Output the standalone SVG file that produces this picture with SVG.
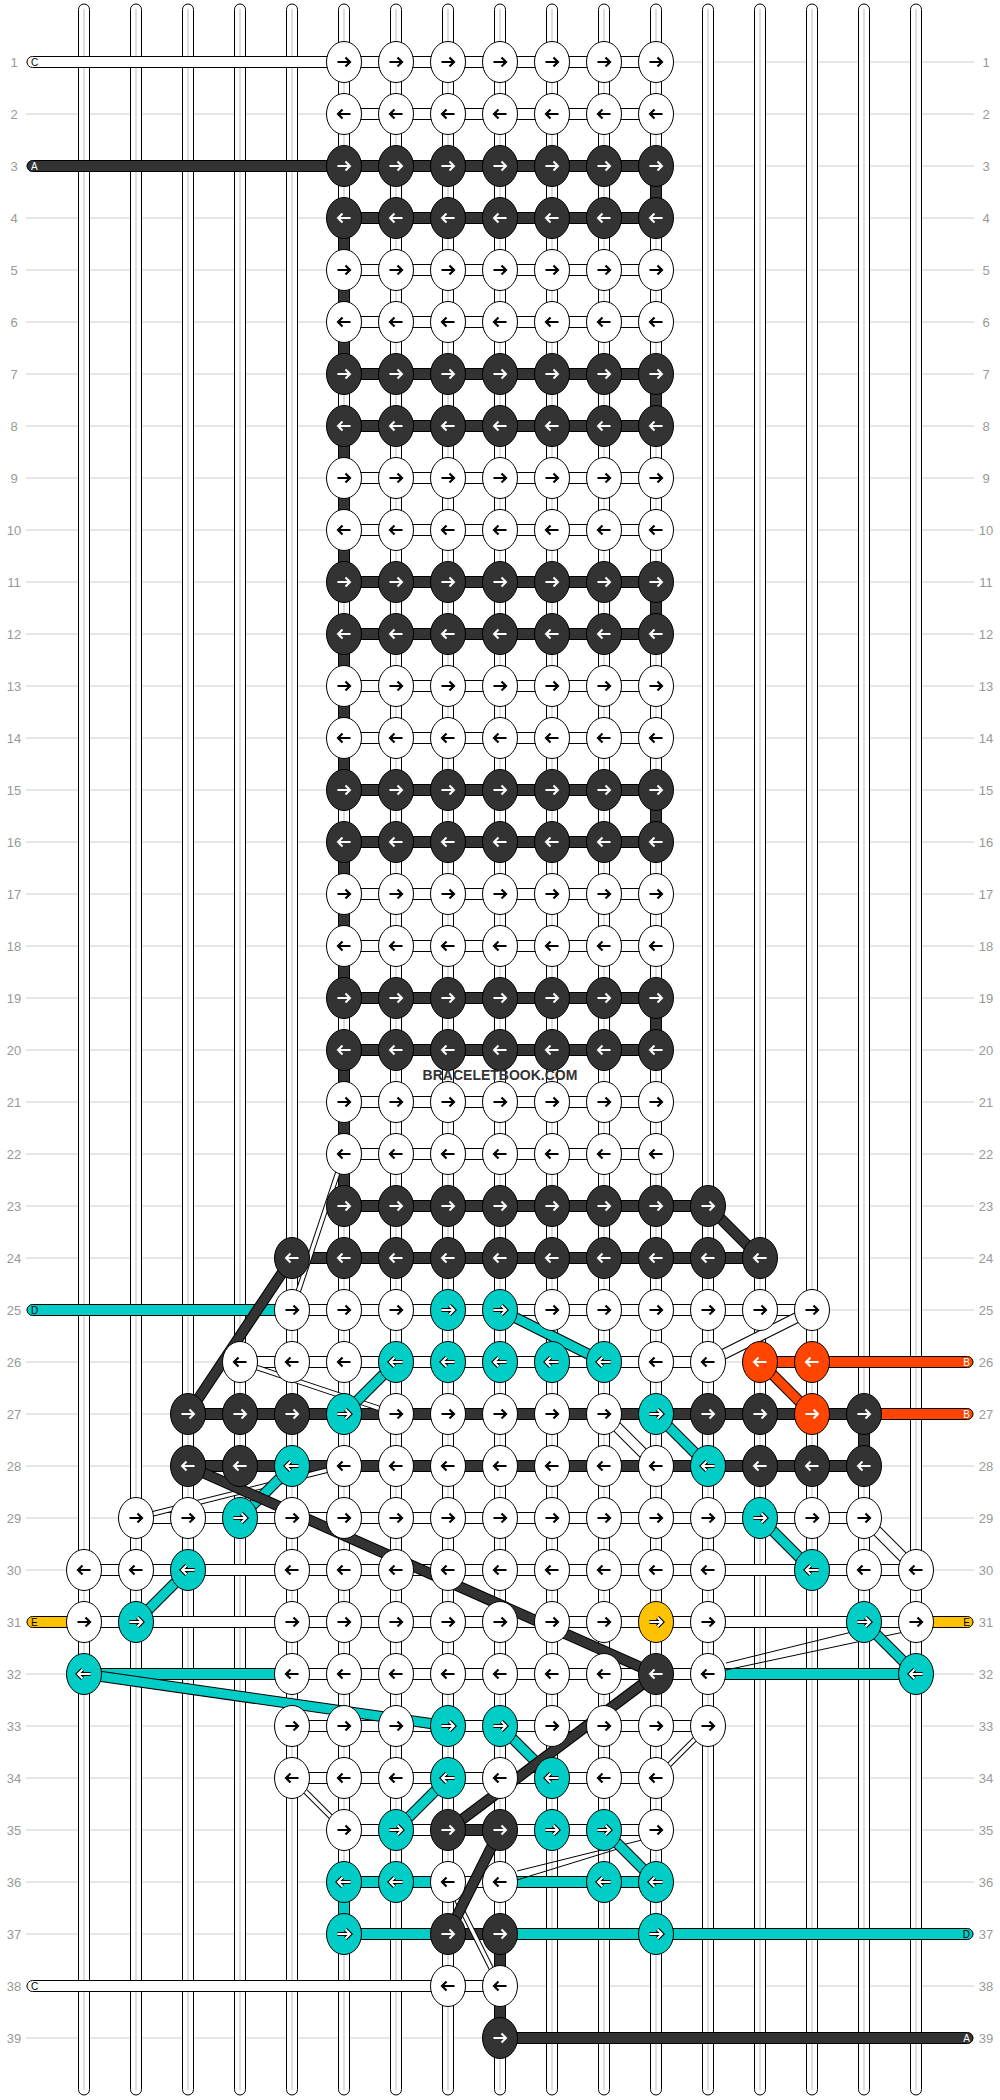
<svg xmlns="http://www.w3.org/2000/svg" xmlns:xlink="http://www.w3.org/1999/xlink" width="1000" height="2100" viewBox="0 0 1000 2100">
<style>
.rl{stroke:#ccc;stroke-width:1}
.num{font-family:"Liberation Sans",Arial,sans-serif;font-size:13px;fill:#999;text-anchor:middle}
.st{fill:#fff;stroke:#000;stroke-width:1}
.sc{stroke:#c8c8c8;stroke-width:1.2}
.bw{fill:#fff;stroke:#000;stroke-width:1}
.bd{fill:#333;stroke:#000;stroke-width:1}
.bc{fill:#00cdc5;stroke:#000;stroke-width:1}
.bo{fill:#ff4500;stroke:#000;stroke-width:1}
.by{fill:#ffc200;stroke:#000;stroke-width:1}
.lo{stroke:#000;stroke-width:11;fill:none}
.lo2{stroke:#000;stroke-width:5.5;fill:none}
.ld{stroke:#333;stroke-width:9}
.lc{stroke:#00cdc5;stroke-width:9}
.lw{stroke:#fff;stroke-width:9}
.lw2{stroke:#fff;stroke-width:3.5}
.lr{stroke:#ff4500;stroke-width:9}
.tl{stroke:#000;stroke-width:1}
.ab{fill:none;stroke:#000;stroke-width:2.2}
.ao{fill:none;stroke:#000;stroke-width:4.2}
.ai{fill:none;stroke:#fff;stroke-width:2}
.lab{font-family:"Liberation Sans",Arial,sans-serif;font-size:10px}
.wm{font-family:"Liberation Sans",Arial,sans-serif;font-size:14px;font-weight:bold;fill:#333;text-anchor:middle}
</style>
<defs>
<path id="aR" d="M-6.5,0H5M1.5,-4.5L6,0L1.5,4.5"/>
<path id="aL" d="M6.5,0H-5M-1.5,-4.5L-6,0L-1.5,4.5"/>
<g id="WR"><ellipse rx="17.5" ry="20.5" class="bw"/><use href="#aR" class="ab"/></g>
<g id="WL"><ellipse rx="17.5" ry="20.5" class="bw"/><use href="#aL" class="ab"/></g>
<g id="DR"><ellipse rx="17.5" ry="20.5" class="bd"/><use href="#aR" class="ai"/></g>
<g id="DL"><ellipse rx="17.5" ry="20.5" class="bd"/><use href="#aL" class="ai"/></g>
<g id="CR"><ellipse rx="17.5" ry="20.5" class="bc"/><use href="#aR" class="ao"/><use href="#aR" class="ai"/></g>
<g id="CL"><ellipse rx="17.5" ry="20.5" class="bc"/><use href="#aL" class="ao"/><use href="#aL" class="ai"/></g>
<g id="OR"><ellipse rx="17.5" ry="20.5" class="bo"/><use href="#aR" class="ai"/></g>
<g id="OL"><ellipse rx="17.5" ry="20.5" class="bo"/><use href="#aL" class="ai"/></g>
<g id="YR"><ellipse rx="17.5" ry="20.5" class="by"/><use href="#aR" class="ao"/><use href="#aR" class="ai"/></g>
<g id="str"><rect x="-5.5" y="4" width="11" height="2091" rx="5.5" class="st"/><line x1="0" y1="9" x2="0" y2="2090" class="sc"/></g>
</defs>
<rect width="1000" height="2100" fill="#fff"/>
<g id="rowlines" class="rl">
<line x1="26" x2="974" y1="62" y2="62"/><line x1="26" x2="974" y1="114" y2="114"/><line x1="26" x2="974" y1="166" y2="166"/><line x1="26" x2="974" y1="218" y2="218"/><line x1="26" x2="974" y1="270" y2="270"/><line x1="26" x2="974" y1="322" y2="322"/><line x1="26" x2="974" y1="374" y2="374"/><line x1="26" x2="974" y1="426" y2="426"/><line x1="26" x2="974" y1="478" y2="478"/><line x1="26" x2="974" y1="530" y2="530"/><line x1="26" x2="974" y1="582" y2="582"/><line x1="26" x2="974" y1="634" y2="634"/><line x1="26" x2="974" y1="686" y2="686"/><line x1="26" x2="974" y1="738" y2="738"/><line x1="26" x2="974" y1="790" y2="790"/><line x1="26" x2="974" y1="842" y2="842"/><line x1="26" x2="974" y1="894" y2="894"/><line x1="26" x2="974" y1="946" y2="946"/><line x1="26" x2="974" y1="998" y2="998"/><line x1="26" x2="974" y1="1050" y2="1050"/><line x1="26" x2="974" y1="1102" y2="1102"/><line x1="26" x2="974" y1="1154" y2="1154"/><line x1="26" x2="974" y1="1206" y2="1206"/><line x1="26" x2="974" y1="1258" y2="1258"/><line x1="26" x2="974" y1="1310" y2="1310"/><line x1="26" x2="974" y1="1362" y2="1362"/><line x1="26" x2="974" y1="1414" y2="1414"/><line x1="26" x2="974" y1="1466" y2="1466"/><line x1="26" x2="974" y1="1518" y2="1518"/><line x1="26" x2="974" y1="1570" y2="1570"/><line x1="26" x2="974" y1="1622" y2="1622"/><line x1="26" x2="974" y1="1674" y2="1674"/><line x1="26" x2="974" y1="1726" y2="1726"/><line x1="26" x2="974" y1="1778" y2="1778"/><line x1="26" x2="974" y1="1830" y2="1830"/><line x1="26" x2="974" y1="1882" y2="1882"/><line x1="26" x2="974" y1="1934" y2="1934"/><line x1="26" x2="974" y1="1986" y2="1986"/><line x1="26" x2="974" y1="2038" y2="2038"/>
</g>
<g id="rownumbers" class="num">
<text x="14" y="66.5">1</text><text x="986" y="66.5">1</text>
<text x="14" y="118.5">2</text><text x="986" y="118.5">2</text>
<text x="14" y="170.5">3</text><text x="986" y="170.5">3</text>
<text x="14" y="222.5">4</text><text x="986" y="222.5">4</text>
<text x="14" y="274.5">5</text><text x="986" y="274.5">5</text>
<text x="14" y="326.5">6</text><text x="986" y="326.5">6</text>
<text x="14" y="378.5">7</text><text x="986" y="378.5">7</text>
<text x="14" y="430.5">8</text><text x="986" y="430.5">8</text>
<text x="14" y="482.5">9</text><text x="986" y="482.5">9</text>
<text x="14" y="534.5">10</text><text x="986" y="534.5">10</text>
<text x="14" y="586.5">11</text><text x="986" y="586.5">11</text>
<text x="14" y="638.5">12</text><text x="986" y="638.5">12</text>
<text x="14" y="690.5">13</text><text x="986" y="690.5">13</text>
<text x="14" y="742.5">14</text><text x="986" y="742.5">14</text>
<text x="14" y="794.5">15</text><text x="986" y="794.5">15</text>
<text x="14" y="846.5">16</text><text x="986" y="846.5">16</text>
<text x="14" y="898.5">17</text><text x="986" y="898.5">17</text>
<text x="14" y="950.5">18</text><text x="986" y="950.5">18</text>
<text x="14" y="1002.5">19</text><text x="986" y="1002.5">19</text>
<text x="14" y="1054.5">20</text><text x="986" y="1054.5">20</text>
<text x="14" y="1106.5">21</text><text x="986" y="1106.5">21</text>
<text x="14" y="1158.5">22</text><text x="986" y="1158.5">22</text>
<text x="14" y="1210.5">23</text><text x="986" y="1210.5">23</text>
<text x="14" y="1262.5">24</text><text x="986" y="1262.5">24</text>
<text x="14" y="1314.5">25</text><text x="986" y="1314.5">25</text>
<text x="14" y="1366.5">26</text><text x="986" y="1366.5">26</text>
<text x="14" y="1418.5">27</text><text x="986" y="1418.5">27</text>
<text x="14" y="1470.5">28</text><text x="986" y="1470.5">28</text>
<text x="14" y="1522.5">29</text><text x="986" y="1522.5">29</text>
<text x="14" y="1574.5">30</text><text x="986" y="1574.5">30</text>
<text x="14" y="1626.5">31</text><text x="986" y="1626.5">31</text>
<text x="14" y="1678.5">32</text><text x="986" y="1678.5">32</text>
<text x="14" y="1730.5">33</text><text x="986" y="1730.5">33</text>
<text x="14" y="1782.5">34</text><text x="986" y="1782.5">34</text>
<text x="14" y="1834.5">35</text><text x="986" y="1834.5">35</text>
<text x="14" y="1886.5">36</text><text x="986" y="1886.5">36</text>
<text x="14" y="1938.5">37</text><text x="986" y="1938.5">37</text>
<text x="14" y="1990.5">38</text><text x="986" y="1990.5">38</text>
<text x="14" y="2042.5">39</text><text x="986" y="2042.5">39</text>
</g>
<g id="strings">
<use href="#str" x="84"/><use href="#str" x="136"/><use href="#str" x="188"/><use href="#str" x="240"/><use href="#str" x="292"/><use href="#str" x="344"/><use href="#str" x="396"/><use href="#str" x="448"/><use href="#str" x="500"/><use href="#str" x="552"/><use href="#str" x="604"/><use href="#str" x="656"/><use href="#str" x="708"/><use href="#str" x="760"/><use href="#str" x="812"/><use href="#str" x="864"/><use href="#str" x="916"/>
</g>
<g id="connectors">
<g id="bands">
<rect x="27" y="56.5" width="629" height="11" rx="5.5" class="bw"/>
<rect x="344" y="108.5" width="312" height="11" class="bw"/>
<rect x="27" y="160.5" width="629" height="11" rx="5.5" class="bd"/>
<rect x="344" y="212.5" width="312" height="11" class="bd"/>
<rect x="344" y="264.5" width="312" height="11" class="bw"/>
<rect x="344" y="316.5" width="312" height="11" class="bw"/>
<rect x="344" y="368.5" width="312" height="11" class="bd"/>
<rect x="344" y="420.5" width="312" height="11" class="bd"/>
<rect x="344" y="472.5" width="312" height="11" class="bw"/>
<rect x="344" y="524.5" width="312" height="11" class="bw"/>
<rect x="344" y="576.5" width="312" height="11" class="bd"/>
<rect x="344" y="628.5" width="312" height="11" class="bd"/>
<rect x="344" y="680.5" width="312" height="11" class="bw"/>
<rect x="344" y="732.5" width="312" height="11" class="bw"/>
<rect x="344" y="784.5" width="312" height="11" class="bd"/>
<rect x="344" y="836.5" width="312" height="11" class="bd"/>
<rect x="344" y="888.5" width="312" height="11" class="bw"/>
<rect x="344" y="940.5" width="312" height="11" class="bw"/>
<rect x="344" y="992.5" width="312" height="11" class="bd"/>
<rect x="344" y="1044.5" width="312" height="11" class="bd"/>
<rect x="344" y="1096.5" width="312" height="11" class="bw"/>
<rect x="344" y="1148.5" width="312" height="11" class="bw"/>
<rect x="344" y="1200.5" width="364" height="11" class="bd"/>
<rect x="292" y="1252.5" width="468" height="11" class="bd"/>
<rect x="27" y="1304.5" width="265" height="11" rx="5.5" class="bc"/>
<rect x="292" y="1304.5" width="520" height="11" class="bw"/>
<rect x="240" y="1356.5" width="468" height="11" class="bw"/>
<rect x="760" y="1356.5" width="213" height="11" rx="5.5" class="bo"/>
<rect x="188" y="1408.5" width="676" height="11" class="bd"/>
<rect x="864" y="1408.5" width="109" height="11" rx="5.5" class="bo"/>
<rect x="188" y="1460.5" width="676" height="11" class="bd"/>
<rect x="136" y="1512.5" width="728" height="11" class="bw"/>
<rect x="84" y="1564.5" width="832" height="11" class="bw"/>
<rect x="27" y="1616.5" width="57" height="11" rx="5.5" class="by"/>
<rect x="84" y="1616.5" width="832" height="11" class="bw"/>
<rect x="916" y="1616.5" width="57" height="11" rx="5.5" class="by"/>
<rect x="84" y="1668.5" width="208" height="11" class="bc"/>
<rect x="292" y="1668.5" width="416" height="11" class="bw"/>
<rect x="708" y="1668.5" width="208" height="11" class="bc"/>
<rect x="292" y="1720.5" width="416" height="11" class="bw"/>
<rect x="292" y="1772.5" width="364" height="11" class="bw"/>
<rect x="344" y="1824.5" width="104" height="11" class="bw"/>
<rect x="448" y="1824.5" width="52" height="11" class="bd"/>
<rect x="500" y="1824.5" width="156" height="11" class="bw"/>
<rect x="344" y="1876.5" width="104" height="11" class="bc"/>
<rect x="448" y="1876.5" width="52" height="11" class="bw"/>
<rect x="500" y="1876.5" width="156" height="11" class="bc"/>
<rect x="344" y="1928.5" width="104" height="11" class="bc"/>
<rect x="448" y="1928.5" width="52" height="11" class="bd"/>
<rect x="500" y="1928.5" width="473" height="11" rx="5.5" class="bc"/>
<rect x="27" y="1980.5" width="473" height="11" rx="5.5" class="bw"/>
<rect x="500" y="2032.5" width="473" height="11" rx="5.5" class="bd"/>
</g>
<g id="verticals">
<rect x="338.5" y="218" width="11" height="156" class="bd"/>
<rect x="338.5" y="426" width="11" height="156" class="bd"/>
<rect x="338.5" y="634" width="11" height="156" class="bd"/>
<rect x="338.5" y="842" width="11" height="156" class="bd"/>
<rect x="338.5" y="1050" width="11" height="156" class="bd"/>
<rect x="650.5" y="166" width="11" height="52" class="bd"/>
<rect x="650.5" y="374" width="11" height="52" class="bd"/>
<rect x="650.5" y="582" width="11" height="52" class="bd"/>
<rect x="650.5" y="790" width="11" height="52" class="bd"/>
<rect x="650.5" y="998" width="11" height="52" class="bd"/>
<rect x="858.5" y="1414" width="11" height="52" class="bd"/>
<rect x="494.5" y="1934" width="11" height="104" class="bd"/>
<rect x="338.5" y="1882" width="11" height="52" class="bc"/>
</g>
<g id="diagonals">
<line x1="344" y1="1154" x2="292" y2="1310" class="lo2"/><line x1="344" y1="1154" x2="292" y2="1310" class="lw2"/>
<line x1="812" y1="1310" x2="708" y2="1362" class="lo"/><line x1="812" y1="1310" x2="708" y2="1362" class="lw"/>
<line x1="240" y1="1362" x2="396" y2="1414" class="lo2"/><line x1="240" y1="1362" x2="396" y2="1414" class="lw2"/>
<line x1="344" y1="1466" x2="136" y2="1518" class="lo2"/><line x1="344" y1="1466" x2="136" y2="1518" class="lw2"/>
<line x1="604" y1="1414" x2="656" y2="1466" class="lo"/><line x1="604" y1="1414" x2="656" y2="1466" class="lw"/>
<line x1="864" y1="1518" x2="916" y2="1570" class="lo"/><line x1="864" y1="1518" x2="916" y2="1570" class="lw"/>
<line x1="708" y1="1726" x2="656" y2="1778" class="lo2"/><line x1="708" y1="1726" x2="656" y2="1778" class="lw2"/>
<line x1="292" y1="1778" x2="344" y2="1830" class="lo2"/><line x1="292" y1="1778" x2="344" y2="1830" class="lw2"/>
<line x1="448" y1="1882" x2="500" y2="1986" class="lo2"/><line x1="448" y1="1882" x2="500" y2="1986" class="lw2"/>
<line x1="726" y1="1663" x2="856" y2="1631" class="tl"/><line x1="726" y1="1670" x2="904" y2="1632" class="tl"/>
<line x1="517" y1="1871" x2="642" y2="1840" class="tl"/><line x1="517" y1="1880" x2="624" y2="1847" class="tl"/>
<line x1="500" y1="1310" x2="604" y2="1362" class="lo"/><line x1="500" y1="1310" x2="604" y2="1362" class="lc"/>
<line x1="396" y1="1362" x2="344" y2="1414" class="lo"/><line x1="396" y1="1362" x2="344" y2="1414" class="lc"/>
<line x1="656" y1="1414" x2="708" y2="1466" class="lo"/><line x1="656" y1="1414" x2="708" y2="1466" class="lc"/>
<line x1="292" y1="1466" x2="240" y2="1518" class="lo"/><line x1="292" y1="1466" x2="240" y2="1518" class="lc"/>
<line x1="760" y1="1518" x2="812" y2="1570" class="lo"/><line x1="760" y1="1518" x2="812" y2="1570" class="lc"/>
<line x1="188" y1="1570" x2="136" y2="1622" class="lo"/><line x1="188" y1="1570" x2="136" y2="1622" class="lc"/>
<line x1="864" y1="1622" x2="916" y2="1674" class="lo"/><line x1="864" y1="1622" x2="916" y2="1674" class="lc"/>
<line x1="84" y1="1674" x2="448" y2="1726" class="lo"/><line x1="84" y1="1674" x2="448" y2="1726" class="lc"/>
<line x1="500" y1="1726" x2="552" y2="1778" class="lo"/><line x1="500" y1="1726" x2="552" y2="1778" class="lc"/>
<line x1="448" y1="1778" x2="396" y2="1830" class="lo"/><line x1="448" y1="1778" x2="396" y2="1830" class="lc"/>
<line x1="604" y1="1830" x2="656" y2="1882" class="lo"/><line x1="604" y1="1830" x2="656" y2="1882" class="lc"/>
<line x1="760" y1="1362" x2="812" y2="1414" class="lo"/><line x1="760" y1="1362" x2="812" y2="1414" class="lr"/>
<line x1="708" y1="1206" x2="760" y2="1258" class="lo"/><line x1="708" y1="1206" x2="760" y2="1258" class="ld"/>
<line x1="292" y1="1258" x2="188" y2="1414" class="lo"/><line x1="292" y1="1258" x2="188" y2="1414" class="ld"/>
<line x1="188" y1="1466" x2="656" y2="1674" class="lo"/><line x1="188" y1="1466" x2="656" y2="1674" class="ld"/>
<line x1="656" y1="1674" x2="448" y2="1830" class="lo"/><line x1="656" y1="1674" x2="448" y2="1830" class="ld"/>
<line x1="500" y1="1830" x2="448" y2="1934" class="lo"/><line x1="500" y1="1830" x2="448" y2="1934" class="ld"/>
</g>
</g>
<g id="knots">
<g id="n1-5"><use href="#WR" x="344" y="62"/></g><g id="n1-6"><use href="#WR" x="396" y="62"/></g><g id="n1-7"><use href="#WR" x="448" y="62"/></g><g id="n1-8"><use href="#WR" x="500" y="62"/></g><g id="n1-9"><use href="#WR" x="552" y="62"/></g><g id="n1-10"><use href="#WR" x="604" y="62"/></g><g id="n1-11"><use href="#WR" x="656" y="62"/></g>
<g id="n2-5"><use href="#WL" x="344" y="114"/></g><g id="n2-6"><use href="#WL" x="396" y="114"/></g><g id="n2-7"><use href="#WL" x="448" y="114"/></g><g id="n2-8"><use href="#WL" x="500" y="114"/></g><g id="n2-9"><use href="#WL" x="552" y="114"/></g><g id="n2-10"><use href="#WL" x="604" y="114"/></g><g id="n2-11"><use href="#WL" x="656" y="114"/></g>
<g id="n3-5"><use href="#DR" x="344" y="166"/></g><g id="n3-6"><use href="#DR" x="396" y="166"/></g><g id="n3-7"><use href="#DR" x="448" y="166"/></g><g id="n3-8"><use href="#DR" x="500" y="166"/></g><g id="n3-9"><use href="#DR" x="552" y="166"/></g><g id="n3-10"><use href="#DR" x="604" y="166"/></g><g id="n3-11"><use href="#DR" x="656" y="166"/></g>
<g id="n4-5"><use href="#DL" x="344" y="218"/></g><g id="n4-6"><use href="#DL" x="396" y="218"/></g><g id="n4-7"><use href="#DL" x="448" y="218"/></g><g id="n4-8"><use href="#DL" x="500" y="218"/></g><g id="n4-9"><use href="#DL" x="552" y="218"/></g><g id="n4-10"><use href="#DL" x="604" y="218"/></g><g id="n4-11"><use href="#DL" x="656" y="218"/></g>
<g id="n5-5"><use href="#WR" x="344" y="270"/></g><g id="n5-6"><use href="#WR" x="396" y="270"/></g><g id="n5-7"><use href="#WR" x="448" y="270"/></g><g id="n5-8"><use href="#WR" x="500" y="270"/></g><g id="n5-9"><use href="#WR" x="552" y="270"/></g><g id="n5-10"><use href="#WR" x="604" y="270"/></g><g id="n5-11"><use href="#WR" x="656" y="270"/></g>
<g id="n6-5"><use href="#WL" x="344" y="322"/></g><g id="n6-6"><use href="#WL" x="396" y="322"/></g><g id="n6-7"><use href="#WL" x="448" y="322"/></g><g id="n6-8"><use href="#WL" x="500" y="322"/></g><g id="n6-9"><use href="#WL" x="552" y="322"/></g><g id="n6-10"><use href="#WL" x="604" y="322"/></g><g id="n6-11"><use href="#WL" x="656" y="322"/></g>
<g id="n7-5"><use href="#DR" x="344" y="374"/></g><g id="n7-6"><use href="#DR" x="396" y="374"/></g><g id="n7-7"><use href="#DR" x="448" y="374"/></g><g id="n7-8"><use href="#DR" x="500" y="374"/></g><g id="n7-9"><use href="#DR" x="552" y="374"/></g><g id="n7-10"><use href="#DR" x="604" y="374"/></g><g id="n7-11"><use href="#DR" x="656" y="374"/></g>
<g id="n8-5"><use href="#DL" x="344" y="426"/></g><g id="n8-6"><use href="#DL" x="396" y="426"/></g><g id="n8-7"><use href="#DL" x="448" y="426"/></g><g id="n8-8"><use href="#DL" x="500" y="426"/></g><g id="n8-9"><use href="#DL" x="552" y="426"/></g><g id="n8-10"><use href="#DL" x="604" y="426"/></g><g id="n8-11"><use href="#DL" x="656" y="426"/></g>
<g id="n9-5"><use href="#WR" x="344" y="478"/></g><g id="n9-6"><use href="#WR" x="396" y="478"/></g><g id="n9-7"><use href="#WR" x="448" y="478"/></g><g id="n9-8"><use href="#WR" x="500" y="478"/></g><g id="n9-9"><use href="#WR" x="552" y="478"/></g><g id="n9-10"><use href="#WR" x="604" y="478"/></g><g id="n9-11"><use href="#WR" x="656" y="478"/></g>
<g id="n10-5"><use href="#WL" x="344" y="530"/></g><g id="n10-6"><use href="#WL" x="396" y="530"/></g><g id="n10-7"><use href="#WL" x="448" y="530"/></g><g id="n10-8"><use href="#WL" x="500" y="530"/></g><g id="n10-9"><use href="#WL" x="552" y="530"/></g><g id="n10-10"><use href="#WL" x="604" y="530"/></g><g id="n10-11"><use href="#WL" x="656" y="530"/></g>
<g id="n11-5"><use href="#DR" x="344" y="582"/></g><g id="n11-6"><use href="#DR" x="396" y="582"/></g><g id="n11-7"><use href="#DR" x="448" y="582"/></g><g id="n11-8"><use href="#DR" x="500" y="582"/></g><g id="n11-9"><use href="#DR" x="552" y="582"/></g><g id="n11-10"><use href="#DR" x="604" y="582"/></g><g id="n11-11"><use href="#DR" x="656" y="582"/></g>
<g id="n12-5"><use href="#DL" x="344" y="634"/></g><g id="n12-6"><use href="#DL" x="396" y="634"/></g><g id="n12-7"><use href="#DL" x="448" y="634"/></g><g id="n12-8"><use href="#DL" x="500" y="634"/></g><g id="n12-9"><use href="#DL" x="552" y="634"/></g><g id="n12-10"><use href="#DL" x="604" y="634"/></g><g id="n12-11"><use href="#DL" x="656" y="634"/></g>
<g id="n13-5"><use href="#WR" x="344" y="686"/></g><g id="n13-6"><use href="#WR" x="396" y="686"/></g><g id="n13-7"><use href="#WR" x="448" y="686"/></g><g id="n13-8"><use href="#WR" x="500" y="686"/></g><g id="n13-9"><use href="#WR" x="552" y="686"/></g><g id="n13-10"><use href="#WR" x="604" y="686"/></g><g id="n13-11"><use href="#WR" x="656" y="686"/></g>
<g id="n14-5"><use href="#WL" x="344" y="738"/></g><g id="n14-6"><use href="#WL" x="396" y="738"/></g><g id="n14-7"><use href="#WL" x="448" y="738"/></g><g id="n14-8"><use href="#WL" x="500" y="738"/></g><g id="n14-9"><use href="#WL" x="552" y="738"/></g><g id="n14-10"><use href="#WL" x="604" y="738"/></g><g id="n14-11"><use href="#WL" x="656" y="738"/></g>
<g id="n15-5"><use href="#DR" x="344" y="790"/></g><g id="n15-6"><use href="#DR" x="396" y="790"/></g><g id="n15-7"><use href="#DR" x="448" y="790"/></g><g id="n15-8"><use href="#DR" x="500" y="790"/></g><g id="n15-9"><use href="#DR" x="552" y="790"/></g><g id="n15-10"><use href="#DR" x="604" y="790"/></g><g id="n15-11"><use href="#DR" x="656" y="790"/></g>
<g id="n16-5"><use href="#DL" x="344" y="842"/></g><g id="n16-6"><use href="#DL" x="396" y="842"/></g><g id="n16-7"><use href="#DL" x="448" y="842"/></g><g id="n16-8"><use href="#DL" x="500" y="842"/></g><g id="n16-9"><use href="#DL" x="552" y="842"/></g><g id="n16-10"><use href="#DL" x="604" y="842"/></g><g id="n16-11"><use href="#DL" x="656" y="842"/></g>
<g id="n17-5"><use href="#WR" x="344" y="894"/></g><g id="n17-6"><use href="#WR" x="396" y="894"/></g><g id="n17-7"><use href="#WR" x="448" y="894"/></g><g id="n17-8"><use href="#WR" x="500" y="894"/></g><g id="n17-9"><use href="#WR" x="552" y="894"/></g><g id="n17-10"><use href="#WR" x="604" y="894"/></g><g id="n17-11"><use href="#WR" x="656" y="894"/></g>
<g id="n18-5"><use href="#WL" x="344" y="946"/></g><g id="n18-6"><use href="#WL" x="396" y="946"/></g><g id="n18-7"><use href="#WL" x="448" y="946"/></g><g id="n18-8"><use href="#WL" x="500" y="946"/></g><g id="n18-9"><use href="#WL" x="552" y="946"/></g><g id="n18-10"><use href="#WL" x="604" y="946"/></g><g id="n18-11"><use href="#WL" x="656" y="946"/></g>
<g id="n19-5"><use href="#DR" x="344" y="998"/></g><g id="n19-6"><use href="#DR" x="396" y="998"/></g><g id="n19-7"><use href="#DR" x="448" y="998"/></g><g id="n19-8"><use href="#DR" x="500" y="998"/></g><g id="n19-9"><use href="#DR" x="552" y="998"/></g><g id="n19-10"><use href="#DR" x="604" y="998"/></g><g id="n19-11"><use href="#DR" x="656" y="998"/></g>
<g id="n20-5"><use href="#DL" x="344" y="1050"/></g><g id="n20-6"><use href="#DL" x="396" y="1050"/></g><g id="n20-7"><use href="#DL" x="448" y="1050"/></g><g id="n20-8"><use href="#DL" x="500" y="1050"/></g><g id="n20-9"><use href="#DL" x="552" y="1050"/></g><g id="n20-10"><use href="#DL" x="604" y="1050"/></g><g id="n20-11"><use href="#DL" x="656" y="1050"/></g>
<g id="n21-5"><use href="#WR" x="344" y="1102"/></g><g id="n21-6"><use href="#WR" x="396" y="1102"/></g><g id="n21-7"><use href="#WR" x="448" y="1102"/></g><g id="n21-8"><use href="#WR" x="500" y="1102"/></g><g id="n21-9"><use href="#WR" x="552" y="1102"/></g><g id="n21-10"><use href="#WR" x="604" y="1102"/></g><g id="n21-11"><use href="#WR" x="656" y="1102"/></g>
<g id="n22-5"><use href="#WL" x="344" y="1154"/></g><g id="n22-6"><use href="#WL" x="396" y="1154"/></g><g id="n22-7"><use href="#WL" x="448" y="1154"/></g><g id="n22-8"><use href="#WL" x="500" y="1154"/></g><g id="n22-9"><use href="#WL" x="552" y="1154"/></g><g id="n22-10"><use href="#WL" x="604" y="1154"/></g><g id="n22-11"><use href="#WL" x="656" y="1154"/></g>
<g id="n23-5"><use href="#DR" x="344" y="1206"/></g><g id="n23-6"><use href="#DR" x="396" y="1206"/></g><g id="n23-7"><use href="#DR" x="448" y="1206"/></g><g id="n23-8"><use href="#DR" x="500" y="1206"/></g><g id="n23-9"><use href="#DR" x="552" y="1206"/></g><g id="n23-10"><use href="#DR" x="604" y="1206"/></g><g id="n23-11"><use href="#DR" x="656" y="1206"/></g><g id="n23-12"><use href="#DR" x="708" y="1206"/></g>
<g id="n24-4"><use href="#DL" x="292" y="1258"/></g><g id="n24-5"><use href="#DL" x="344" y="1258"/></g><g id="n24-6"><use href="#DL" x="396" y="1258"/></g><g id="n24-7"><use href="#DL" x="448" y="1258"/></g><g id="n24-8"><use href="#DL" x="500" y="1258"/></g><g id="n24-9"><use href="#DL" x="552" y="1258"/></g><g id="n24-10"><use href="#DL" x="604" y="1258"/></g><g id="n24-11"><use href="#DL" x="656" y="1258"/></g><g id="n24-12"><use href="#DL" x="708" y="1258"/></g><g id="n24-13"><use href="#DL" x="760" y="1258"/></g>
<g id="n25-4"><use href="#WR" x="292" y="1310"/></g><g id="n25-5"><use href="#WR" x="344" y="1310"/></g><g id="n25-6"><use href="#WR" x="396" y="1310"/></g><g id="n25-7"><use href="#CR" x="448" y="1310"/></g><g id="n25-8"><use href="#CR" x="500" y="1310"/></g><g id="n25-9"><use href="#WR" x="552" y="1310"/></g><g id="n25-10"><use href="#WR" x="604" y="1310"/></g><g id="n25-11"><use href="#WR" x="656" y="1310"/></g><g id="n25-12"><use href="#WR" x="708" y="1310"/></g><g id="n25-13"><use href="#WR" x="760" y="1310"/></g><g id="n25-14"><use href="#WR" x="812" y="1310"/></g>
<g id="n26-3"><use href="#WL" x="240" y="1362"/></g><g id="n26-4"><use href="#WL" x="292" y="1362"/></g><g id="n26-5"><use href="#WL" x="344" y="1362"/></g><g id="n26-6"><use href="#CL" x="396" y="1362"/></g><g id="n26-7"><use href="#CL" x="448" y="1362"/></g><g id="n26-8"><use href="#CL" x="500" y="1362"/></g><g id="n26-9"><use href="#CL" x="552" y="1362"/></g><g id="n26-10"><use href="#CL" x="604" y="1362"/></g><g id="n26-11"><use href="#WL" x="656" y="1362"/></g><g id="n26-12"><use href="#WL" x="708" y="1362"/></g><g id="n26-13"><use href="#OL" x="760" y="1362"/></g><g id="n26-14"><use href="#OL" x="812" y="1362"/></g>
<g id="n27-2"><use href="#DR" x="188" y="1414"/></g><g id="n27-3"><use href="#DR" x="240" y="1414"/></g><g id="n27-4"><use href="#DR" x="292" y="1414"/></g><g id="n27-5"><use href="#CR" x="344" y="1414"/></g><g id="n27-6"><use href="#WR" x="396" y="1414"/></g><g id="n27-7"><use href="#WR" x="448" y="1414"/></g><g id="n27-8"><use href="#WR" x="500" y="1414"/></g><g id="n27-9"><use href="#WR" x="552" y="1414"/></g><g id="n27-10"><use href="#WR" x="604" y="1414"/></g><g id="n27-11"><use href="#CR" x="656" y="1414"/></g><g id="n27-12"><use href="#DR" x="708" y="1414"/></g><g id="n27-13"><use href="#DR" x="760" y="1414"/></g><g id="n27-14"><use href="#OR" x="812" y="1414"/></g><g id="n27-15"><use href="#DR" x="864" y="1414"/></g>
<g id="n28-2"><use href="#DL" x="188" y="1466"/></g><g id="n28-3"><use href="#DL" x="240" y="1466"/></g><g id="n28-4"><use href="#CL" x="292" y="1466"/></g><g id="n28-5"><use href="#WL" x="344" y="1466"/></g><g id="n28-6"><use href="#WL" x="396" y="1466"/></g><g id="n28-7"><use href="#WL" x="448" y="1466"/></g><g id="n28-8"><use href="#WL" x="500" y="1466"/></g><g id="n28-9"><use href="#WL" x="552" y="1466"/></g><g id="n28-10"><use href="#WL" x="604" y="1466"/></g><g id="n28-11"><use href="#WL" x="656" y="1466"/></g><g id="n28-12"><use href="#CL" x="708" y="1466"/></g><g id="n28-13"><use href="#DL" x="760" y="1466"/></g><g id="n28-14"><use href="#DL" x="812" y="1466"/></g><g id="n28-15"><use href="#DL" x="864" y="1466"/></g>
<g id="n29-1"><use href="#WR" x="136" y="1518"/></g><g id="n29-2"><use href="#WR" x="188" y="1518"/></g><g id="n29-3"><use href="#CR" x="240" y="1518"/></g><g id="n29-4"><use href="#WR" x="292" y="1518"/></g><g id="n29-5"><use href="#WR" x="344" y="1518"/></g><g id="n29-6"><use href="#WR" x="396" y="1518"/></g><g id="n29-7"><use href="#WR" x="448" y="1518"/></g><g id="n29-8"><use href="#WR" x="500" y="1518"/></g><g id="n29-9"><use href="#WR" x="552" y="1518"/></g><g id="n29-10"><use href="#WR" x="604" y="1518"/></g><g id="n29-11"><use href="#WR" x="656" y="1518"/></g><g id="n29-12"><use href="#WR" x="708" y="1518"/></g><g id="n29-13"><use href="#CR" x="760" y="1518"/></g><g id="n29-14"><use href="#WR" x="812" y="1518"/></g><g id="n29-15"><use href="#WR" x="864" y="1518"/></g>
<g id="n30-0"><use href="#WL" x="84" y="1570"/></g><g id="n30-1"><use href="#WL" x="136" y="1570"/></g><g id="n30-2"><use href="#CL" x="188" y="1570"/></g><g id="n30-4"><use href="#WL" x="292" y="1570"/></g><g id="n30-5"><use href="#WL" x="344" y="1570"/></g><g id="n30-6"><use href="#WL" x="396" y="1570"/></g><g id="n30-7"><use href="#WL" x="448" y="1570"/></g><g id="n30-8"><use href="#WL" x="500" y="1570"/></g><g id="n30-9"><use href="#WL" x="552" y="1570"/></g><g id="n30-10"><use href="#WL" x="604" y="1570"/></g><g id="n30-11"><use href="#WL" x="656" y="1570"/></g><g id="n30-12"><use href="#WL" x="708" y="1570"/></g><g id="n30-14"><use href="#CL" x="812" y="1570"/></g><g id="n30-15"><use href="#WL" x="864" y="1570"/></g><g id="n30-16"><use href="#WL" x="916" y="1570"/></g>
<g id="n31-0"><use href="#WR" x="84" y="1622"/></g><g id="n31-1"><use href="#CR" x="136" y="1622"/></g><g id="n31-4"><use href="#WR" x="292" y="1622"/></g><g id="n31-5"><use href="#WR" x="344" y="1622"/></g><g id="n31-6"><use href="#WR" x="396" y="1622"/></g><g id="n31-7"><use href="#WR" x="448" y="1622"/></g><g id="n31-8"><use href="#WR" x="500" y="1622"/></g><g id="n31-9"><use href="#WR" x="552" y="1622"/></g><g id="n31-10"><use href="#WR" x="604" y="1622"/></g><g id="n31-11"><use href="#YR" x="656" y="1622"/></g><g id="n31-12"><use href="#WR" x="708" y="1622"/></g><g id="n31-15"><use href="#CR" x="864" y="1622"/></g><g id="n31-16"><use href="#WR" x="916" y="1622"/></g>
<g id="n32-0"><use href="#CL" x="84" y="1674"/></g><g id="n32-4"><use href="#WL" x="292" y="1674"/></g><g id="n32-5"><use href="#WL" x="344" y="1674"/></g><g id="n32-6"><use href="#WL" x="396" y="1674"/></g><g id="n32-7"><use href="#WL" x="448" y="1674"/></g><g id="n32-8"><use href="#WL" x="500" y="1674"/></g><g id="n32-9"><use href="#WL" x="552" y="1674"/></g><g id="n32-10"><use href="#WL" x="604" y="1674"/></g><g id="n32-11"><use href="#DL" x="656" y="1674"/></g><g id="n32-12"><use href="#WL" x="708" y="1674"/></g><g id="n32-16"><use href="#CL" x="916" y="1674"/></g>
<g id="n33-4"><use href="#WR" x="292" y="1726"/></g><g id="n33-5"><use href="#WR" x="344" y="1726"/></g><g id="n33-6"><use href="#WR" x="396" y="1726"/></g><g id="n33-7"><use href="#CR" x="448" y="1726"/></g><g id="n33-8"><use href="#CR" x="500" y="1726"/></g><g id="n33-9"><use href="#WR" x="552" y="1726"/></g><g id="n33-10"><use href="#WR" x="604" y="1726"/></g><g id="n33-11"><use href="#WR" x="656" y="1726"/></g><g id="n33-12"><use href="#WR" x="708" y="1726"/></g>
<g id="n34-4"><use href="#WL" x="292" y="1778"/></g><g id="n34-5"><use href="#WL" x="344" y="1778"/></g><g id="n34-6"><use href="#WL" x="396" y="1778"/></g><g id="n34-7"><use href="#CL" x="448" y="1778"/></g><g id="n34-8"><use href="#WL" x="500" y="1778"/></g><g id="n34-9"><use href="#CL" x="552" y="1778"/></g><g id="n34-10"><use href="#WL" x="604" y="1778"/></g><g id="n34-11"><use href="#WL" x="656" y="1778"/></g>
<g id="n35-5"><use href="#WR" x="344" y="1830"/></g><g id="n35-6"><use href="#CR" x="396" y="1830"/></g><g id="n35-7"><use href="#DR" x="448" y="1830"/></g><g id="n35-8"><use href="#DR" x="500" y="1830"/></g><g id="n35-9"><use href="#CR" x="552" y="1830"/></g><g id="n35-10"><use href="#CR" x="604" y="1830"/></g><g id="n35-11"><use href="#WR" x="656" y="1830"/></g>
<g id="n36-5"><use href="#CL" x="344" y="1882"/></g><g id="n36-6"><use href="#CL" x="396" y="1882"/></g><g id="n36-7"><use href="#WL" x="448" y="1882"/></g><g id="n36-8"><use href="#WL" x="500" y="1882"/></g><g id="n36-10"><use href="#CL" x="604" y="1882"/></g><g id="n36-11"><use href="#CL" x="656" y="1882"/></g>
<g id="n37-5"><use href="#CR" x="344" y="1934"/></g><g id="n37-7"><use href="#DR" x="448" y="1934"/></g><g id="n37-8"><use href="#DR" x="500" y="1934"/></g><g id="n37-11"><use href="#CR" x="656" y="1934"/></g>
<g id="n38-7"><use href="#WL" x="448" y="1986"/></g><g id="n38-8"><use href="#WL" x="500" y="1986"/></g>
<g id="n39-8"><use href="#DR" x="500" y="2038"/></g>
</g>
<g id="labels" class="lab">
<text x="31" y="65.5" fill="#000">C</text>
<text x="31" y="169.5" fill="#fff">A</text>
<text x="31" y="1313.5" fill="#000">D</text>
<text x="31" y="1625.5" fill="#000">E</text>
<text x="31" y="1989.5" fill="#000">C</text>
<text x="970" y="1365.5" fill="#fff" text-anchor="end">B</text>
<text x="970" y="1417.5" fill="#fff" text-anchor="end">B</text>
<text x="970" y="1625.5" fill="#000" text-anchor="end">E</text>
<text x="970" y="1937.5" fill="#000" text-anchor="end">D</text>
<text x="970" y="2041.5" fill="#fff" text-anchor="end">A</text>
</g>
<text x="500" y="1080" class="wm">BRACELETBOOK.COM</text>
</svg>
